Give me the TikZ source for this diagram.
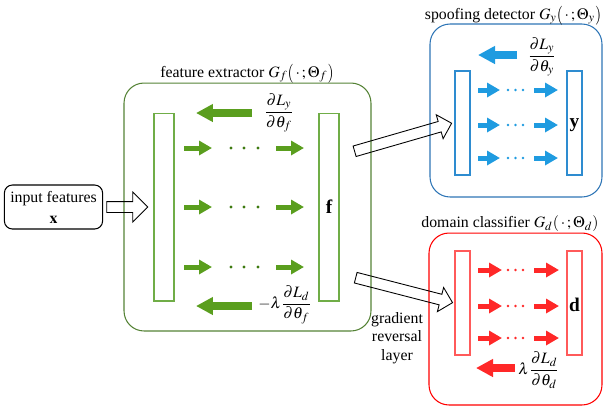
\documentclass[tikz,border=0pt]{standalone}
\usepackage{amsmath}
\usepackage{graphicx}
\usepackage{mathptmx}
\usepackage[no-math]{fontspec}
\setmainfont{Liberation Serif}
\usetikzlibrary{positioning,arrows.meta,shapes.arrows}

\newcommand{\tallopen}{\mathopen{\raisebox{-0.15ex}{\scalebox{1}[1.2]{$($}}}}
\newcommand{\tallclose}{\mathclose{\raisebox{-0.15ex}{\scalebox{1}[1.2]{$)$}}}}

\definecolor{greenln}{RGB}{84,130,53}
\definecolor{greenbar}{RGB}{112,173,71}
\definecolor{greenfill}{RGB}{90,158,30}
\definecolor{greendot}{RGB}{62,122,16}
\definecolor{blueln}{RGB}{46,117,182}
\definecolor{bluebar}{RGB}{46,140,208}
\definecolor{bluefill}{RGB}{31,155,224}
\definecolor{redln}{RGB}{255,0,0}
\definecolor{redbar}{RGB}{255,90,90}
\definecolor{redfill}{RGB}{255,40,40}

\tikzset{
	every node/.style={font=\fontsize{9}{11}\selectfont},
	module/.style={draw, rounded corners=0.4cm, line width=0.6pt},
	title/.style={anchor=base, inner sep=0pt},
	layer/.style={draw, line width=0.6pt, inner sep=0pt},
	letter/.style={font=\bfseries\fontsize{11}{13}\selectfont},
	fwd/.style={line width=0.1cm, -{Triangle[length=0.26cm,width=0.28cm]}},
	bwd/.style={line width=0.16cm, -{Triangle[length=0.34cm,width=0.34cm]}},
	hollow/.style={draw, single arrow, line width=0.5pt, inner xsep=0pt, inner ysep=0.1cm,
		text height=0pt, text depth=0pt, single arrow head extend=0.14cm}
}

\begin{document}
\begin{tikzpicture}[x=0.02cm, y=-0.02cm]
	\useasboundingbox (0,0) rectangle (605,407);

	% Input
	\node[module, rounded corners=0.16cm, minimum width=1.86cm, minimum height=0.88cm, align=center] (input) at (53.5,207) {input features\\[1pt]$\mathbf{x}$};

	% Feature extractor
	\node[module, draw=greenln, minimum width=4.94cm, minimum height=4.96cm] (extractor) at (247.5,207) {};
	\node[title] (extractortitle) at (247,77) {feature extractor $G_f\tallopen\,\cdot\,;\Theta_f\tallclose$};
	\node[layer, draw=greenbar, minimum width=0.4cm, minimum height=3.76cm] (fin) at (164,207) {};
	\node[layer, draw=greenbar, minimum width=0.4cm, minimum height=3.76cm] (fout) at (329,207) {};
	\node[letter] (flabel) at (329,207) {f};
	\foreach \y in {148,207,267} {
		\draw[fwd, greenfill] (184,\y) -- (212,\y);
		\draw[fwd, greenfill] (276,\y) -- (304,\y);
		\foreach \x in {231,244,258} \fill[greendot] (\x,\y) circle (0.9pt);
	}
	\draw[bwd, greenfill] (252,113) -- (196,113);
	\draw[bwd, greenfill] (252,306) -- (196,306);
	\node (dLyf) at (279,113) {$\dfrac{\partial L_y}{\partial\theta_f}$};
	\node (dLdf) at (285,305) {$-\lambda\dfrac{\partial L_d}{\partial\theta_f}$};

	% Spoofing detector
	\node[module, draw=blueln, minimum width=3.44cm, minimum height=3.46cm] (detector) at (516,110.5) {};
	\node[title] (detectortitle) at (513,19) {spoofing detector $G_y\tallopen\,\cdot\,;\Theta_y\tallclose$};
	\node[layer, draw=bluebar, minimum width=0.3cm, minimum height=2.08cm] (yin) at (462.5,123) {};
	\node[layer, draw=bluebar, minimum width=0.3cm, minimum height=2.08cm] (yout) at (574.5,123) {};
	\node[letter] (ylabel) at (574.5,125) {y};
	\foreach \y in {90,125,158} {
		\draw[fwd, bluefill] (478,\y) -- (500,\y);
		\draw[fwd, bluefill] (534,\y) -- (558,\y);
		\foreach \x in {508,515.5,523} \fill[bluefill] (\x,\y) circle (0.8pt);
	}
	\draw[bwd, bluefill] (517,55) -- (478,55);
	\node (dLyy) at (542,57) {$\dfrac{\partial L_y}{\partial\theta_y}$};

	% Domain classifier
	\node[module, draw=redln, minimum width=3.46cm, minimum height=3.44cm] (classifier) at (515.5,319) {};
	\node[title] (classifiertitle) at (510,227) {domain classifier $G_d(\,\cdot\,;\Theta_d)$};
	\node[layer, draw=redbar, minimum width=0.3cm, minimum height=2.08cm] (din) at (462.5,303) {};
	\node[layer, draw=redbar, minimum width=0.3cm, minimum height=2.08cm] (dout) at (574.5,303) {};
	\node[letter] (dlabel) at (574.5,305) {d};
	\foreach \y in {270,306,338} {
		\draw[fwd, redfill] (478,\y) -- (502,\y);
		\draw[fwd, redfill] (534,\y) -- (559,\y);
		\foreach \x in {508,515.5,523} \fill[redfill] (\x,\y) circle (0.8pt);
	}
	\draw[bwd, redfill] (515,368) -- (476,368);
	\node (dLdd) at (539,370) {$\lambda\dfrac{\partial L_d}{\partial\theta_d}$};

	% Hollow arrows between modules
	\coordinate (intail) at (104,207);
	\coordinate (intip) at (145,207);
	\coordinate (ytail) at (352,152);
	\coordinate (ytip) at (449,124);
	\coordinate (dtail) at (353,277);
	\coordinate (dtip) at (450,302);
	\path (intail) -- node[hollow, sloped, minimum height=0.82cm, single arrow head extend=0.19cm] (inarrow) {} (intip);
	\path (ytail) -- node[hollow, sloped, minimum height=2.02cm] (yarrow) {} (ytip);
	\path (dtail) -- node[hollow, sloped, minimum height=2.0cm] (darrow) {} (dtip);
	\node[align=center, font=\fontsize{9}{10.5}\selectfont] (grl) at (397,338) {gradient\\reversal\\layer};
\end{tikzpicture}
\end{document}
